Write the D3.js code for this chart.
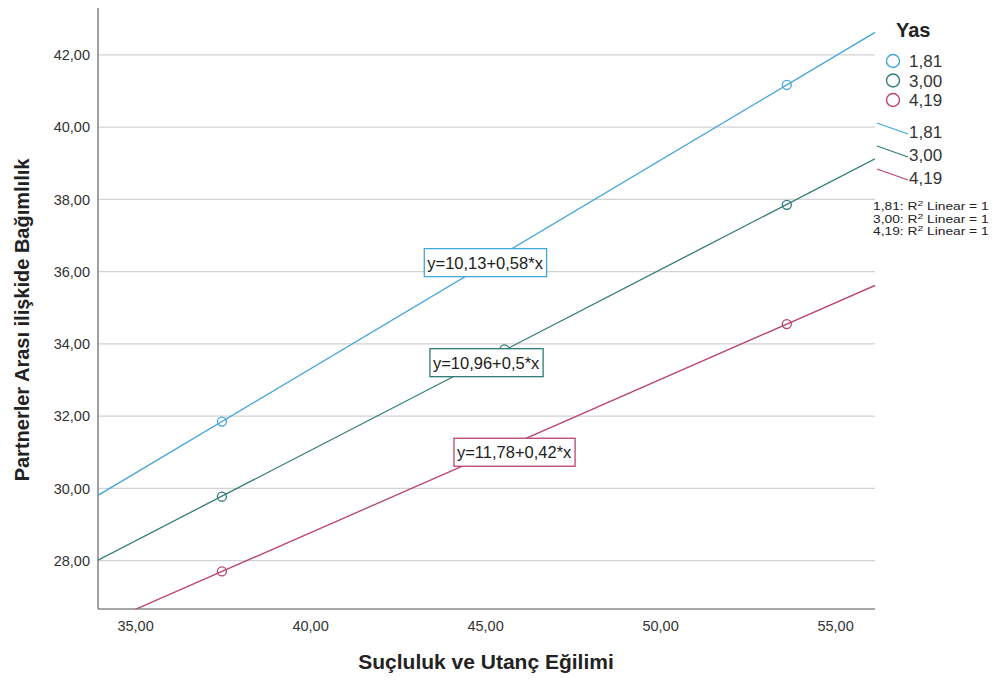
<!DOCTYPE html>
<html><head><meta charset="utf-8">
<script src="https://cdn.jsdelivr.net/npm/d3@7"></script>
<style>body{margin:0;background:#fff}svg{display:block}text{font-family:"Liberation Sans",Arial,sans-serif}</style>
</head><body><svg id="c" width="1003" height="683"></svg>
<script>
const groups = ["1,81", "3,00", "4,19"];
const colors = ["#45a6da", "#2f7b76", "#b8436d"];
const xValues = [37.48, 45.55, 53.62];
const yBlue = [31.85, 36.51, 41.17];
const yGreen = [29.77, 33.85, 37.85];
const yRed = [27.70, 31.12, 34.55];
const equations = ["y=10,13+0,58*x", "y=10,96+0,5*x", "y=11,78+0,42*x"];
const labelX = [45.0, 45.03, 45.83];
const labelY = [36.25, 33.48, 31.0];
const xTicks = [35, 40, 45, 50, 55];
const yTicks = [28, 30, 32, 34, 36, 38, 40, 42];

const series = [yBlue, yGreen, yRed];
const fmt = v => v.toFixed(2).replace(".", ",");
const svg = d3.select("#c");
const L = 98, R = 875, T = 8, B = 609;
const x = d3.scaleLinear().domain([33.94, 56.14]).range([L, R]);
const y = d3.scaleLinear().domain([26.66, 43.30]).range([B, T]);

svg.append("defs").append("clipPath").attr("id", "clip")
  .append("rect").attr("x", L).attr("y", T).attr("width", R - L).attr("height", B - T);

// gridlines
svg.append("g").selectAll("line").data(yTicks).join("line")
  .attr("x1", L).attr("x2", R).attr("y1", d => y(d)).attr("y2", d => y(d))
  .attr("stroke", "#d2d2d2").attr("stroke-width", 1.3);

// axes
const yAxis = svg.append("g").attr("transform", `translate(${L},0)`)
  .call(d3.axisLeft(y).tickValues(yTicks).tickFormat(fmt).tickSize(0).tickPadding(8));
const xAxis = svg.append("g").attr("transform", `translate(0,${B})`)
  .call(d3.axisBottom(x).tickValues(xTicks).tickFormat(fmt).tickSize(0).tickPadding(12));
[yAxis, xAxis].forEach(a => {
  a.select(".domain").attr("stroke", "#8a8a8a").attr("stroke-width", 1.6);
  a.selectAll("text").attr("font-size", 14.5).attr("fill", "#333")
    .attr("font-family", "'Liberation Sans',Arial,sans-serif");
});
yAxis.select(".domain").attr("d", `M0,${T}V${B}`);
xAxis.select(".domain").attr("d", `M${L},0H${R}`);

// fit lines (least squares through points), extended across plot
const lines = svg.append("g").attr("clip-path", "url(#clip)");
series.forEach((ys, i) => {
  const mx = d3.mean(xValues), my = d3.mean(ys);
  const b = d3.sum(xValues, (xv, k) => (xv - mx) * (ys[k] - my)) / d3.sum(xValues, xv => (xv - mx) ** 2);
  const a = my - b * mx;
  const [d0, d1] = x.domain();
  lines.append("line")
    .attr("x1", x(d0)).attr("y1", y(a + b * d0))
    .attr("x2", x(d1)).attr("y2", y(a + b * d1))
    .attr("stroke", colors[i]).attr("stroke-width", 1.3);
  lines.selectAll(null).data(xValues).join("circle")
    .attr("cx", d => x(d)).attr("cy", (d, k) => y(ys[k])).attr("r", 4.5)
    .attr("fill", "none").attr("stroke", colors[i]).attr("stroke-width", 1.3);
});

// equation labels
equations.forEach((eq, i) => {
  const g = svg.append("g");
  const t = g.append("text").attr("x", x(labelX[i])).attr("y", y(labelY[i]) + 6)
    .attr("text-anchor", "middle").attr("font-size", 16.5).attr("fill", "#222").text(eq);
  const bb = t.node().getBBox();
  g.insert("rect", "text").attr("x", bb.x - 3).attr("y", y(labelY[i]) - 14)
    .attr("width", bb.width + 6).attr("height", 28)
    .attr("fill", "#fff").attr("stroke", colors[i]).attr("stroke-width", 1.3);
});

// axis titles
svg.append("text").attr("x", 486).attr("y", 669).attr("text-anchor", "middle")
  .attr("font-size", 21).attr("font-weight", "bold").attr("fill", "#222")
  .text("Suçluluk ve Utanç Eğilimi");
svg.append("text").attr("transform", "translate(29,320) rotate(-90)").attr("text-anchor", "middle")
  .attr("font-size", 20).attr("font-weight", "bold").attr("fill", "#222")
  .text("Partnerler Arası ilişkide Bağımlılık");

// legend
const lg = svg.append("g");
lg.append("text").attr("x", 896).attr("y", 37).attr("font-size", 20).attr("font-weight", "bold")
  .attr("fill", "#222").text("Yas");
groups.forEach((g, i) => {
  const cy = 61 + i * 19.5;
  lg.append("circle").attr("cx", 893).attr("cy", cy).attr("r", 6.5)
    .attr("fill", "none").attr("stroke", colors[i]).attr("stroke-width", 1.4);
  lg.append("text").attr("x", 909).attr("y", cy + 6).attr("font-size", 17).attr("fill", "#333").text(g);
});
groups.forEach((g, i) => {
  const cy = 132 + i * 23;
  lg.append("line").attr("x1", 877).attr("y1", cy - 9).attr("x2", 908).attr("y2", cy + 2)
    .attr("stroke", colors[i]).attr("stroke-width", 1.3);
  lg.append("text").attr("x", 909).attr("y", cy + 6).attr("font-size", 17).attr("fill", "#333").text(g);
});
groups.forEach((g, i) => {
  const t = lg.append("text").attr("transform", `translate(873,${210 + i * 12.6}) scale(1.3,1)`)
    .attr("font-size", 10.6).attr("fill", "#222");
  t.append("tspan").text(g + ": R");
  t.append("tspan").attr("dy", -4).attr("font-size", 8).text("2");
  t.append("tspan").attr("dy", 4).text(" Linear = 1");
});
</script></body></html>
